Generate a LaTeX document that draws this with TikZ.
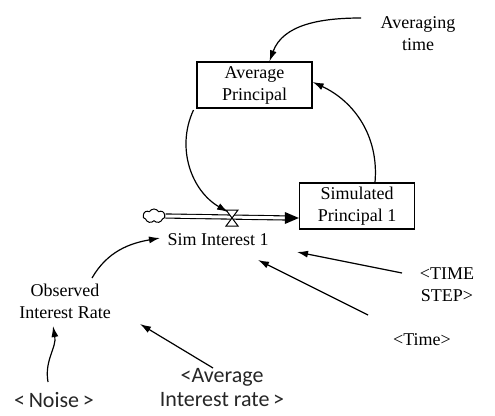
\documentclass[tikz,border=0pt]{standalone}
\usepackage{fontspec}
\setmainfont{Liberation Serif}
\newfontfamily\calib{Carlito}
\usetikzlibrary{arrows.meta,shapes.symbols}
\begin{document}
\begin{tikzpicture}[x=1pt,y=-1pt,
  lbl/.style={font=\fontsize{18}{22}\selectfont, align=center, inner sep=1pt},
  slbl/.style={font=\calib\fontsize{22}{24}\selectfont, align=center, inner sep=1pt, text=black!85},
  stock/.style={draw, line width=1.3pt, minimum width=115pt, minimum height=46pt, lbl},
  link/.style={line width=1.2pt, -{Latex[length=11pt,width=7pt]}}]
\useasboundingbox (0,0) rectangle (495,415);
% nodes
\node[lbl] (avgtime) at (418,34) {Averaging\\time};
\node[stock] (avgP) at (254.5,85) {Average\\Principal};
\node[stock] (simP) at (357,206) {Simulated\\Principal 1};
\node[cloud, draw, line width=1pt, cloud puffs=7, cloud puff arc=120, minimum width=22pt, minimum height=14pt, inner sep=0pt] (cloud) at (154,216) {};
\node[lbl] (simI) at (218,240) {Sim Interest 1};
\node[lbl] (obs) at (65,301) {Observed\\Interest Rate};
\node[lbl] (tstep) at (447,285) {<TIME\\STEP>};
\node[lbl] (time) at (422,340) {<Time>};
\node[slbl] (avgrate) at (222,388) {<Average\\Interest rate\,>};
\node[slbl] (noise) at (54,400) {<\,Noise\,>};
\coordinate (valve) at (232,218);
% pipe
\draw[line width=1.1pt, double=white, double distance=3pt] (cloud.east) -- ([xshift=-10pt]simP.west |- valve);
\fill (simP.west |- valve) -- ++(-14,-6) -- ++(0,12) -- cycle;
% valve
\draw[fill=white, line width=1pt] ([shift={(-6,-8)}]valve) -- ([shift={(6,-8)}]valve) -- ([shift={(-6,8)}]valve) -- ([shift={(6,8)}]valve) -- cycle;
% links
\draw[link] ([shift={(-57,-16)}]avgtime.center) to[out=180,in=70] ([shift={(15,0)}]avgP.north);
\draw[link] ([shift={(18,0)}]simP.north) to[out=85,in=-25] ([shift={(0,-3)}]avgP.east);
\draw[link] ([shift={(-61,25)}]avgP.center) to[out=245,in=150] ([shift={(-4,-6)}]valve);
\draw[link] ([shift={(27,-23)}]obs.center) to[out=60,in=190] ([shift={(-58,-2)}]simI.center);
\draw[link] ([shift={(-45,-12)}]tstep.center) -- ([shift={(79,12)}]simI.center);
\draw[link] ([shift={(-54,-25)}]time.center) -- ([shift={(40,20)}]simI.center);
\draw[link] ([shift={(-9,-20)}]avgrate.center) -- ([shift={(75,23)}]obs.center);
\draw[link] ([shift={(-6,-18)}]noise.center) to[out=100,in=-80] ([shift={(-12,25)}]obs.center);
\end{tikzpicture}
\end{document}
